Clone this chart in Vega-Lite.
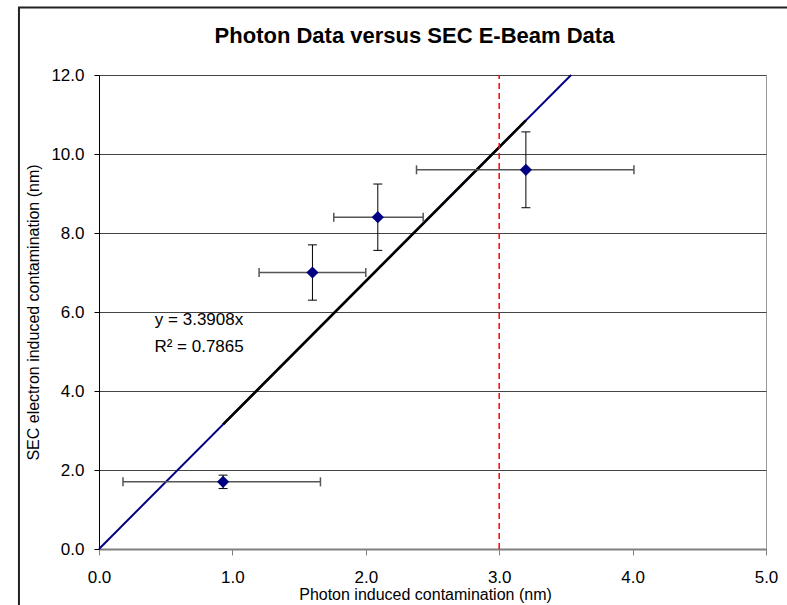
{
  "$schema": "https://vega.github.io/schema/vega-lite/v6.json",
  "width": 667,
  "height": 474,
  "autosize": {"type": "none"},
  "padding": {"left": 99, "top": 75, "right": 21, "bottom": 56},
  "background": "white",
  "config": {
    "view": {"stroke": "#999999", "strokeWidth": 1},
    "font": "Liberation Sans",
    "axisX": {
      "grid": false,
      "labelFont": "Liberation Sans",
      "labelFontSize": 17,
      "labelColor": "black",
      "labelPadding": 14,
      "labelFlush": false,
      "labelOverlap": false,
      "tickColor": "#808080",
      "tickSize": 6,
      "tickWidth": 1,
      "domainColor": "#808080",
      "domainWidth": 2,
      "titleFont": "Liberation Sans",
      "titleFontSize": 16,
      "titleFontWeight": "normal",
      "titleColor": "black",
      "titleX": 326,
      "titleY": 37,
      "titleBaseline": "top",
      "titleAlign": "center"
    },
    "axisY": {
      "grid": true,
      "gridColor": "#444444",
      "gridWidth": 1,
      "labelFont": "Liberation Sans",
      "labelFontSize": 17,
      "labelColor": "black",
      "labelPadding": 10,
      "labelFlush": false,
      "labelOverlap": false,
      "tickColor": "black",
      "tickSize": 5,
      "tickWidth": 1,
      "domainColor": "black",
      "domainWidth": 1,
      "titleFont": "Liberation Sans",
      "titleFontSize": 16,
      "titleFontWeight": "normal",
      "titleColor": "black",
      "titleAngle": -90,
      "titleX": -66,
      "titleY": 237,
      "titleBaseline": "middle",
      "titleAlign": "center"
    }
  },
  "title": {
    "text": "Photon Data versus SEC E-Beam Data",
    "font": "Liberation Sans",
    "fontSize": 22,
    "fontWeight": "bold",
    "color": "black",
    "anchor": "middle",
    "dx": -18,
    "baseline": "alphabetic",
    "offset": -59
  },
  "datasets": {
    "pts": [
      {"x": 0.93, "y": 1.7, "xlo": 0.18, "xhi": 1.66, "ylo": 1.53, "yhi": 1.87},
      {"x": 1.6, "y": 7.0, "xlo": 1.2, "xhi": 2.0, "ylo": 6.3, "yhi": 7.7},
      {"x": 2.09, "y": 8.4, "xlo": 1.76, "xhi": 2.43, "ylo": 7.56, "yhi": 9.24},
      {"x": 3.2, "y": 9.6, "xlo": 2.38, "xhi": 4.01, "ylo": 8.64, "yhi": 10.56}
    ],
    "fitall": [{"x": 0, "y": 0}, {"x": 3.539, "y": 12}],
    "fitdata": [{"x": 0.93, "y": 3.153}, {"x": 3.2, "y": 10.851}],
    "limit": [{"x": 3.0, "y0": 0, "y1": 12}],
    "eq": [
      {"x": 0.75, "y": 5.8, "label": "y = 3.3908x"},
      {"x": 0.75, "y": 5.12, "label": "R² = 0.7865"}
    ]
  },
  "layer": [
    {
      "data": {"name": "fitall"},
      "mark": {"type": "line", "color": "#000080", "strokeWidth": 2},
      "encoding": {
        "x": {
          "field": "x", "type": "quantitative",
          "title": "Photon induced contamination (nm)",
          "scale": {"domain": [0, 5], "nice": false, "zero": false},
          "axis": {"values": [0, 1, 2, 3, 4, 5], "format": ".1f"}
        },
        "y": {
          "field": "y", "type": "quantitative",
          "title": "SEC electron induced contamination (nm)",
          "scale": {"domain": [0, 12], "nice": false, "zero": false},
          "axis": {"values": [0, 2, 4, 6, 8, 10, 12], "format": ".1f"}
        }
      }
    },
    {
      "data": {"values": [{}]},
      "mark": {"type": "rect", "filled": false, "stroke": "#222222", "strokeWidth": 2, "clip": false},
      "encoding": {
        "x": {"datum": -0.6, "type": "quantitative", "title": "Photon induced contamination (nm)"},
        "x2": {"datum": 6},
        "y": {"datum": 13.71, "type": "quantitative", "title": "SEC electron induced contamination (nm)"},
        "y2": {"datum": -3}
      }
    },
    {
      "data": {"name": "fitdata"},
      "mark": {"type": "line", "color": "black", "strokeWidth": 2.6},
      "encoding": {
        "x": {"field": "x", "type": "quantitative", "title": "Photon induced contamination (nm)"},
        "y": {"field": "y", "type": "quantitative", "title": "SEC electron induced contamination (nm)"}
      }
    },
    {
      "data": {"name": "limit"},
      "mark": {"type": "rule", "color": "#FF0000", "strokeWidth": 1.5, "strokeDash": [6, 4]},
      "encoding": {
        "x": {"field": "x", "type": "quantitative", "title": "Photon induced contamination (nm)"},
        "y": {"field": "y0", "type": "quantitative", "title": "SEC electron induced contamination (nm)"},
        "y2": {"field": "y1"}
      }
    },
    {
      "data": {"name": "pts"},
      "mark": {"type": "rule", "color": "#555555", "strokeWidth": 1.5},
      "encoding": {
        "x": {"field": "xlo", "type": "quantitative", "title": "Photon induced contamination (nm)"},
        "x2": {"field": "xhi"},
        "y": {"field": "y", "type": "quantitative", "title": "SEC electron induced contamination (nm)"}
      }
    },
    {
      "data": {"name": "pts"},
      "mark": {"type": "tick", "orient": "vertical", "color": "#555555", "size": 9, "thickness": 1.5, "opacity": 1},
      "encoding": {
        "x": {"field": "xlo", "type": "quantitative", "title": "Photon induced contamination (nm)"},
        "y": {"field": "y", "type": "quantitative", "title": "SEC electron induced contamination (nm)"}
      }
    },
    {
      "data": {"name": "pts"},
      "mark": {"type": "tick", "orient": "vertical", "color": "#555555", "size": 9, "thickness": 1.5, "opacity": 1},
      "encoding": {
        "x": {"field": "xhi", "type": "quantitative", "title": "Photon induced contamination (nm)"},
        "y": {"field": "y", "type": "quantitative", "title": "SEC electron induced contamination (nm)"}
      }
    },
    {
      "data": {"name": "pts"},
      "mark": {"type": "rule", "color": "black", "strokeWidth": 1},
      "encoding": {
        "x": {"field": "x", "type": "quantitative", "title": "Photon induced contamination (nm)"},
        "y": {"field": "ylo", "type": "quantitative", "title": "SEC electron induced contamination (nm)"},
        "y2": {"field": "yhi"}
      }
    },
    {
      "data": {"name": "pts"},
      "mark": {"type": "tick", "orient": "horizontal", "color": "black", "size": 9, "thickness": 1, "opacity": 1},
      "encoding": {
        "x": {"field": "x", "type": "quantitative", "title": "Photon induced contamination (nm)"},
        "y": {"field": "ylo", "type": "quantitative", "title": "SEC electron induced contamination (nm)"}
      }
    },
    {
      "data": {"name": "pts"},
      "mark": {"type": "tick", "orient": "horizontal", "color": "black", "size": 9, "thickness": 1, "opacity": 1},
      "encoding": {
        "x": {"field": "x", "type": "quantitative", "title": "Photon induced contamination (nm)"},
        "y": {"field": "yhi", "type": "quantitative", "title": "SEC electron induced contamination (nm)"}
      }
    },
    {
      "data": {"name": "pts"},
      "mark": {"type": "point", "shape": "diamond", "filled": true, "color": "#000080", "size": 150, "opacity": 1},
      "encoding": {
        "x": {"field": "x", "type": "quantitative", "title": "Photon induced contamination (nm)"},
        "y": {"field": "y", "type": "quantitative", "title": "SEC electron induced contamination (nm)"}
      }
    },
    {
      "data": {"name": "eq"},
      "mark": {"type": "text", "font": "Liberation Sans", "fontSize": 17, "color": "black", "align": "center", "baseline": "middle"},
      "encoding": {
        "x": {"field": "x", "type": "quantitative", "title": "Photon induced contamination (nm)"},
        "y": {"field": "y", "type": "quantitative", "title": "SEC electron induced contamination (nm)"},
        "text": {"field": "label"}
      }
    }
  ]
}
